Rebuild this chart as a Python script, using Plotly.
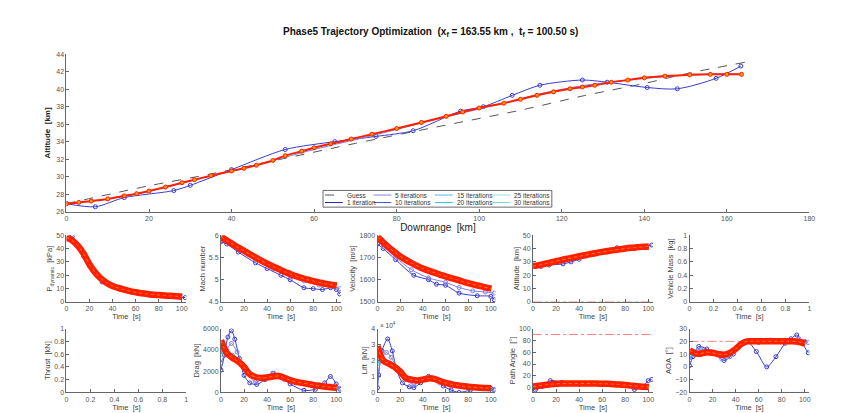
import plotly.graph_objects as go

W, H = 848, 413
FONT = "Liberation Sans, Arial, sans-serif"

# ---------------- main plot: downrange [km] vs altitude [km]
guess_x = [0, 20, 35, 53.5, 70, 92, 110, 125.5, 140, 151, 164.6]
guess_alt = [26.9, 28.95, 30.3, 32.15, 33.8, 35.9, 37.6, 39.27, 40.66, 41.86, 43.1]

it1_x = [0, 7, 14, 26, 30, 40, 53, 65, 75, 84, 95.5, 101, 108, 114.7, 125, 131, 140.7, 148, 157.4, 163.4]
it1_alt = [26.9, 26.55, 27.6, 28.4, 29.0, 30.8, 33.1, 34.0, 34.6, 35.25, 37.5, 38.0, 39.3, 40.45, 41.05, 40.8, 40.2, 40.05, 41.25, 42.65]

it5_x = [0, 15, 30, 45, 60, 75, 90, 105, 115, 125, 135, 150, 163.5]
it5_alt = [26.9, 27.8, 29.5, 31.2, 33.1, 34.8, 36.6, 38.3, 39.5, 40.4, 41.0, 41.6, 41.75]

fin_x = [0, 3, 6, 10, 14, 17, 20, 24, 28, 31, 35, 40, 43, 46, 50, 53, 57, 60, 64, 69, 74, 80, 86, 92, 96,
         100, 106, 110, 114, 118, 122, 125, 128, 132, 136, 140, 145, 151, 156, 160, 163.55]
fin_alt = [26.9, 27.05, 27.2, 27.45, 27.8, 28.05, 28.35, 28.8, 29.3, 29.65, 30.1, 30.65, 30.95, 31.3, 31.85, 32.4,
           32.9, 33.3, 33.75, 34.3, 34.85, 35.5, 36.2, 36.9, 37.4, 37.85, 38.4, 38.85, 39.3, 39.7, 40.05, 40.25,
           40.45, 40.8, 41.05, 41.3, 41.5, 41.65, 41.7, 41.7, 41.7]

# ---------------- time histories (final solution on a common time grid)
t_fin = [0, 5, 10, 15, 20, 25, 30, 35, 40, 45, 50, 55, 60, 65, 70, 75, 80, 85, 90, 95, 100.5]
pdyn_fin = [48.5, 46, 42, 36, 28, 22, 17.5, 14.3, 12, 10.5, 9.2, 8.1, 7.3, 6.6, 6, 5.5, 5.2, 4.9, 4.6, 4.3, 4.0]
mach_fin = [5.97, 5.88, 5.8, 5.72, 5.65, 5.57, 5.5, 5.43, 5.36, 5.3, 5.24, 5.18, 5.13, 5.08, 5.04, 5.0, 4.97, 4.94, 4.91, 4.89, 4.87]
vel_fin = [1792, 1768, 1745, 1724, 1705, 1689, 1675, 1662, 1650, 1641, 1632, 1623, 1615, 1607, 1600, 1592, 1585, 1578, 1572, 1566, 1560]
alt_fin = [26.8, 27.6, 28.5, 29.5, 30.5, 31.5, 32.4, 33.3, 34.2, 35.0, 35.9, 36.7, 37.5, 38.2, 38.8, 39.4, 40.0, 40.5, 40.9, 41.3, 41.6]
drag_fin = [4900, 3700, 3250, 2900, 2400, 1700, 1450, 1350, 1400, 1500, 1550, 1380, 1150, 1000, 900, 800, 700, 620, 550, 490, 450]
lift_fin = [2.9, 2.0, 1.8, 1.6, 1.3, 0.9, 0.8, 0.75, 0.8, 0.88, 0.85, 0.72, 0.6, 0.52, 0.45, 0.4, 0.35, 0.32, 0.3, 0.28, 0.27]
gam_fin = [2, 3.3, 4.5, 5.6, 6.5, 7, 7, 7, 7, 7, 7, 6.9, 6.8, 6.5, 6, 5.3, 4.5, 3.5, 2.5, 1.7, 1]
aoa_fin = [13, 10.5, 10.5, 11.5, 11, 10, 9.5, 11, 14, 18, 20, 20, 20, 20, 20, 20, 20, 20, 20, 19.5, 18.5]

# iteration histories
pdyn_it1_t = [0, 5, 10, 15, 20, 31, 40, 52, 62, 72, 88, 103]
pdyn_it1 = [47, 49, 42, 34, 27, 15, 12, 9, 7, 5.2, 4.2, 3.3]

mach_it1_t = [0, 5, 15, 30, 40, 52, 60, 72, 80, 88, 95, 100, 103]
mach_it1 = [5.85, 5.8, 5.62, 5.38, 5.25, 5.1, 5.0, 4.82, 4.8, 4.78, 4.82, 4.78, 4.68]
mach_it5_t = [0, 8, 16, 30, 45, 60, 72, 85, 95, 103]
mach_it5 = [5.9, 5.8, 5.68, 5.45, 5.25, 5.08, 4.97, 4.88, 4.85, 4.8]

vel_it1_t = [0, 5, 16, 32, 45, 52, 60, 72, 88, 100, 103]
vel_it1 = [1760, 1740, 1690, 1620, 1600, 1580, 1575, 1540, 1528, 1525, 1510]
vel_it5_t = [0, 5, 16, 30, 45, 60, 72, 84, 95, 103]
vel_it5 = [1775, 1750, 1700, 1645, 1608, 1588, 1565, 1550, 1545, 1540]

alt_it1_t = [0, 7, 14, 26, 33, 40, 53, 62, 73, 88, 103]
alt_it1 = [26.9, 26.6, 27.6, 28.5, 30.0, 32.0, 35.8, 38.0, 40.6, 40.0, 42.6]

drag_it1_t = [0, 3, 6, 9, 12, 16, 20, 25, 31, 38, 45, 52, 60, 72, 82, 90, 95, 100, 103]
drag_it1 = [2100, 3500, 5200, 5800, 5000, 3200, 1600, 900, 750, 1200, 1800, 1500, 800, 200, 300, 900, 1500, 800, 300]
drag_it5_t = [0, 5, 9, 14, 20, 30, 40, 46, 55, 65, 75, 85, 95, 103]
drag_it5 = [2800, 4000, 4600, 3800, 2200, 1000, 1500, 1800, 1200, 900, 800, 700, 600, 400]
drag_it15_t = [0, 2, 5, 10, 15, 20, 25]
drag_it15 = [3600, 3900, 3800, 3500, 3000, 2400, 1700]

lift_it1_t = [0, 1, 4, 9, 13, 17, 22, 28, 32, 38, 45, 52, 58, 65, 72, 82, 90, 100, 103]
lift_it1 = [0.3, 1.1, 2.6, 3.35, 2.6, 1.4, 0.6, 0.35, 0.3, 0.6, 1.0, 0.8, 0.4, 0.15, 0.0, 0.15, 0.3, 0.25, 0.15]
lift_it5_t = [0, 4, 8, 12, 18, 25, 32, 40, 48, 55, 65, 80, 95, 103]
lift_it5 = [1.0, 2.2, 2.5, 2.2, 1.5, 0.8, 0.5, 0.8, 0.9, 0.6, 0.4, 0.3, 0.3, 0.2]
lift_it15_t = [0, 2, 4, 8, 12, 16, 20]
lift_it15 = [1.8, 2.0, 2.0, 1.9, 1.8, 1.6, 1.3]

gam_it1_t = [0, 2, 8, 15, 25, 40, 55, 70, 80, 88, 95, 100, 103]
gam_it1 = [0, -4, 2, 12, 9, 6, 7, 7, 5, -3, 2, 12, 14]

aoa_it1_t = [0, 3, 8, 15, 22, 30, 38, 45, 50, 58, 67, 75, 83, 88, 93, 98, 103]
aoa_it1 = [1, 8, 16, 14, 11, 5, 10, 18, 20, 12, 0, 8, 18.5, 22, 25, 18, 11]
aoa_it5_t = [0, 4, 10, 18, 28, 35, 42, 50, 60, 70, 80, 90, 95, 100, 103]
aoa_it5 = [5, 12, 14, 12, 6, 8, 15, 20, 19, 21, 20, 20, 22, 20, 19]
aoa_it15_t = [0, 2, 5, 10, 15]
aoa_it15 = [9, 11, 12, 12, 11.5]

# bounds (dash-dot pink)
bound_t = [0, 104]
alt_lower = [0, 0]
gam_upper = [90, 90]
aoa_upper = [20, 20]
aoa_lower = [-20, -20]

# legend
legend_labels = ["Guess", "5 iterations", "15 iterations", "25 iterations",
                 "1 iteration", "10 iterations", "20 iterations", "30 iterations"]
legend_colors = ["#555555", "#8a7fe0", "#5fb3f0", "#8fe6ea",
                 "#2a2aa8", "#3a5ad8", "#3cc4d8", "#66e0e0"]
legend_dashes = ["dash", "solid", "solid", "solid", "solid", "solid", "solid", "solid"]

C_IT1 = "#3b3bd0"
C_IT5 = "#7f7fe6"
C_IT15 = "#33c7e6"
RED = "#ff1e00"

fig = go.Figure()


def xd(a, b):
    return [a / W, b / W]


def yd(top, bottom):
    return [1 - bottom / H, 1 - top / H]


def ax(n):
    return ("x" if n == 1 else f"x{n}"), ("y" if n == 1 else f"y{n}")


def add_line(n, xs, ys, color, width=1, markers=False, dash="solid", msize=4):
    xa, ya = ax(n)
    fig.add_trace(go.Scatter(
        x=xs, y=ys, xaxis=xa, yaxis=ya,
        mode="lines+markers" if markers else "lines",
        line=dict(color=color, width=width, shape="spline", smoothing=0.8, dash=dash),
        marker=dict(symbol="circle-open", size=msize, color=color, line=dict(width=1)),
        showlegend=False, hoverinfo="skip"))


def add_final(n, xs, ys, main=False):
    xa, ya = ax(n)
    if main:
        fig.add_trace(go.Scatter(
            x=xs, y=ys, xaxis=xa, yaxis=ya, mode="lines+markers",
            line=dict(color=RED, width=2, shape="spline", smoothing=0.6),
            marker=dict(symbol="circle", size=4, color="#ff9a00",
                        line=dict(color=RED, width=1)),
            showlegend=False, hoverinfo="skip"))
    else:
        fig.add_trace(go.Scatter(
            x=xs, y=ys, xaxis=xa, yaxis=ya, mode="lines",
            line=dict(color=RED, width=6.5, shape="spline", smoothing=0.8),
            showlegend=False, hoverinfo="skip"))
        fig.add_trace(go.Scatter(
            x=xs, y=ys, xaxis=xa, yaxis=ya, mode="lines",
            line=dict(color="#ffa000", width=1, shape="spline", smoothing=0.8, dash="dot"),
            opacity=0.8, showlegend=False, hoverinfo="skip"))


def add_bound(n, xs, ys):
    xa, ya = ax(n)
    fig.add_trace(go.Scatter(x=xs, y=ys, xaxis=xa, yaxis=ya, mode="lines",
                             line=dict(color="#ff8080", width=1, dash="dashdot"),
                             showlegend=False, hoverinfo="skip"))


# ---- main
add_line(1, guess_x, guess_alt, "#555555", width=1, dash="dash")
add_line(1, it1_x, it1_alt, C_IT1, width=1, markers=True)
add_line(1, it5_x, it5_alt, C_IT5, width=1)
add_final(1, fin_x, fin_alt, main=True)

# ---- row 1
add_line(2, pdyn_it1_t, pdyn_it1, C_IT1, markers=True)
add_final(2, t_fin, pdyn_fin)

add_line(3, mach_it1_t, mach_it1, C_IT1, markers=True)
add_line(3, mach_it5_t, mach_it5, C_IT5, markers=True)
add_final(3, t_fin, mach_fin)

add_line(4, vel_it1_t, vel_it1, C_IT1, markers=True)
add_line(4, vel_it5_t, vel_it5, C_IT5, markers=True)
add_final(4, t_fin, vel_fin)

add_bound(5, bound_t, alt_lower)
add_line(5, alt_it1_t, alt_it1, C_IT1, markers=True)
add_final(5, t_fin, alt_fin)

fig.add_trace(go.Scatter(x=[], y=[], xaxis="x6", yaxis="y6", showlegend=False))

# ---- row 2
fig.add_trace(go.Scatter(x=[], y=[], xaxis="x7", yaxis="y7", showlegend=False))

add_line(8, drag_it1_t, drag_it1, C_IT1, markers=True)
add_line(8, drag_it5_t, drag_it5, C_IT5, markers=True)
add_line(8, drag_it15_t, drag_it15, C_IT15, width=1.5, markers=True)
add_final(8, t_fin, drag_fin)

add_line(9, lift_it1_t, lift_it1, C_IT1, markers=True)
add_line(9, lift_it5_t, lift_it5, C_IT5, markers=True)
add_line(9, lift_it15_t, lift_it15, C_IT15, width=1.5, markers=True)
add_final(9, t_fin, lift_fin)

add_bound(10, bound_t, gam_upper)
add_line(10, gam_it1_t, gam_it1, C_IT1, markers=True)
add_final(10, t_fin, gam_fin)

add_bound(11, bound_t, aoa_upper)
add_bound(11, bound_t, aoa_lower)
add_line(11, aoa_it1_t, aoa_it1, C_IT1, markers=True)
add_line(11, aoa_it5_t, aoa_it5, C_IT5, markers=True)
add_line(11, aoa_it15_t, aoa_it15, C_IT15, width=1.5, markers=True)
add_final(11, t_fin, aoa_fin)

# ---------------- axes
cols = [(57, 178), (213, 334), (371, 490), (528, 649), (686, 807)]
row1 = (227, 295)
row2 = (322, 387)

tickfont = dict(family=FONT, size=7, color="#555")
titlefont = dict(family=FONT, size=7.5, color="#444")
base = dict(showline=True, linecolor="#666", linewidth=1, ticks="inside", ticklen=3,
            tickcolor="#666", showgrid=False, zeroline=False, tickfont=tickfont,
            mirror=False)

layout = {}
layout["xaxis"] = dict(base, domain=xd(57, 807), range=[0, 180], tickvals=list(range(0, 181, 20)),
                       anchor="y", title=dict(text="Downrange  [km]",
                                              font=dict(family=FONT, size=10, color="#222"),
                                              standoff=2))
layout["yaxis"] = dict(base, domain=yd(43, 203), range=[26, 44], tickvals=list(range(26, 45, 2)),
                       anchor="x", title=dict(text="<b>Altitude  [km]</b>",
                                              font=dict(family=FONT, size=8, color="#222"),
                                              standoff=4))

time_ticks = [0, 20, 40, 60, 80, 100]
unit_ticks = [0, 0.2, 0.4, 0.6, 0.8, 1]
panels = [
    # n, col, row, yrange, yticks, ytitle, xrange, xticks
    (2, 0, row1, [0, 50], [0, 10, 20, 30, 40, 50], "P<sub>dynamic</sub>  [kPa]", [0, 104], time_ticks),
    (3, 1, row1, [4.5, 6], [4.5, 5, 5.5, 6], "Mach number", [0, 104], time_ticks),
    (4, 2, row1, [1500, 1800], [1500, 1600, 1700, 1800], "Velocity  [m/s]", [0, 104], time_ticks),
    (5, 3, row1, [0, 50], [0, 10, 20, 30, 40, 50], "Altitude  [km]", [0, 104], time_ticks),
    (6, 4, row1, [0, 1], unit_ticks, "Vehicle Mass  [kg]", [0, 1], unit_ticks),
    (7, 0, row2, [0, 1], unit_ticks, "Thrust  [kN]", [0, 1], unit_ticks),
    (8, 1, row2, [0, 6000], [0, 2000, 4000, 6000], "Drag  [kN]", [0, 104], time_ticks),
    (9, 2, row2, [0, 4], [0, 1, 2, 3, 4], "Lift  [kN]", [0, 104], time_ticks),
    (10, 3, row2, [-8, 100], [0, 20, 40, 60, 80, 100], "Path Angle  [°]", [0, 104], time_ticks),
    (11, 4, row2, [-20, 30], [-20, -10, 0, 10, 20, 30], "AOA  [°]", [0, 104], time_ticks),
]
for n, c, r, yr, yt, ytitle, xr, xt in panels:
    layout[f"xaxis{n}"] = dict(base, domain=xd(*cols[c]), range=xr, tickvals=xt, anchor=f"y{n}",
                               title=dict(text="Time  [s]", font=titlefont, standoff=1))
    layout[f"yaxis{n}"] = dict(base, domain=yd(*r), range=yr, tickvals=yt, anchor=f"x{n}",
                               title=dict(text=ytitle, font=titlefont, standoff=2))

fig.update_layout(**layout)

# ---------------- title, multiplier, legend
annotations = [
    dict(text="<b>Phase5 Trajectory Optimization  (x<sub>f</sub> = 163.55 km ,  t<sub>f</sub> = 100.50 s)</b>",
         x=0.5, y=1 - 20 / H, xref="paper", yref="paper", showarrow=False,
         font=dict(family=FONT, size=10, color="#111"), xanchor="center", yanchor="middle"),
    dict(text="× 10<sup>4</sup>", x=372 / W, y=1 - 318 / H, xref="paper", yref="paper",
         showarrow=False, font=dict(family=FONT, size=6.5, color="#444"),
         xanchor="left", yanchor="middle"),
]
shapes = [dict(type="rect", xref="paper", yref="paper", x0=316 / W, x1=547 / W,
               y0=1 - 198.5 / H, y1=1 - 181.5 / H, line=dict(color="#444", width=0.8),
               fillcolor="white", layer="above")]
col_x = [318, 367, 429, 487]
row_y = [186.2, 193.8]
for i, lab in enumerate(legend_labels):
    cx = col_x[i % 4]
    ry = row_y[i // 4]
    shapes.append(dict(type="line", xref="paper", yref="paper", x0=cx / W, x1=(cx + 18) / W,
                       y0=1 - ry / H, y1=1 - ry / H, layer="above",
                       line=dict(color=legend_colors[i], width=1, dash=legend_dashes[i])))
    annotations.append(dict(text=lab, x=(cx + 20) / W, y=1 - ry / H, xref="paper", yref="paper",
                            showarrow=False, xanchor="left", yanchor="middle",
                            font=dict(family=FONT, size=6.5, color="#333")))

fig.update_layout(width=W, height=H, margin=dict(l=0, r=0, t=0, b=0),
                  paper_bgcolor="white", plot_bgcolor="white",
                  annotations=annotations, shapes=shapes, showlegend=False,
                  font=dict(family=FONT))

fig.write_html("out.html")
